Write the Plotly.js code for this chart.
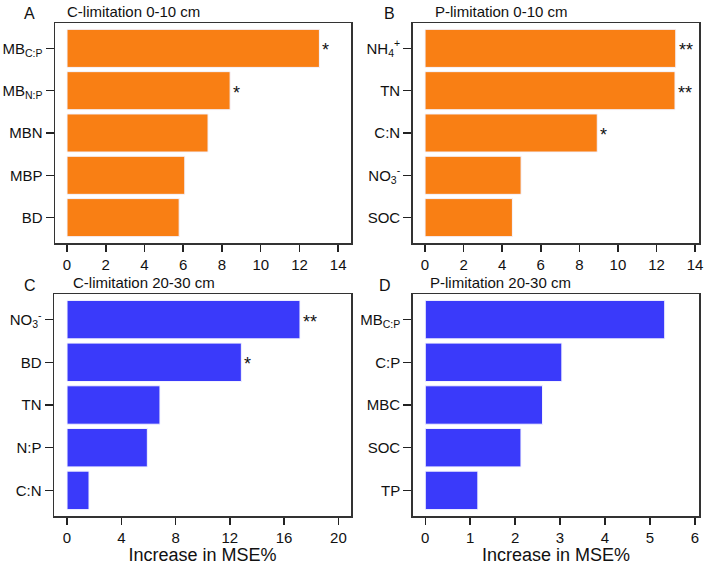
<!DOCTYPE html>
<html><head><meta charset="utf-8">
<script src="https://cdn.plot.ly/plotly-3.0.1.min.js"></script>
<style>html,body{margin:0;padding:0;background:#fff}</style>
</head><body>
<div id="chart" style="width:714px;height:568px"></div>
<script>
// Panel A: C-limitation 0-10 cm
const catsA = ["MB<sub>C:P</sub>", "MB<sub>N:P</sub>", "MBN", "MBP", "BD"];
const valsA = [13.03, 8.42, 7.28, 6.08, 5.79];
const sigA  = ["*", "*", "", "", ""];
// Panel B: P-limitation 0-10 cm
const catsB = ["NH<sub>4</sub><sup>+</sup>", "TN", "C:N", "NO<sub>3</sub><sup>-</sup>", "SOC"];
const valsB = [13.0, 12.96, 8.93, 4.98, 4.53];
const sigB  = ["**", "**", "*", "", ""];
// Panel C: C-limitation 20-30 cm
const catsC = ["NO<sub>3</sub><sup>-</sup>", "BD", "TN", "N:P", "C:N"];
const valsC = [17.17, 12.85, 6.85, 5.92, 1.62];
const sigC  = ["**", "*", "", "", ""];
// Panel D: P-limitation 20-30 cm
const catsD = ["MB<sub>C:P</sub>", "C:P", "MBC", "SOC", "TP"];
const valsD = [5.33, 3.04, 2.61, 2.13, 1.17];
const sigD  = ["", "", "", "", ""];

const titles = ["C-limitation 0-10 cm", "P-limitation 0-10 cm", "C-limitation 20-30 cm", "P-limitation 20-30 cm"];
const letters = ["A", "B", "C", "D"];
const xTitle = "Increase in MSE%";

const ORANGE = "#F97F14", BLUE = "#3A3AFA";
const FONT = "Liberation Sans, Arial, sans-serif";
const W = 714, H = 568;

const panels = [
  {cats: catsA, vals: valsA, sig: sigA, color: ORANGE, px: [55, 351], py: [23, 243], xr: [-0.62, 14.66], dt: 2, xt: false},
  {cats: catsB, vals: valsB, sig: sigB, color: ORANGE, px: [412.7, 699.3], py: [23, 243], xr: [-0.64, 14.22], dt: 2, xt: false},
  {cats: catsC, vals: valsC, sig: sigC, color: BLUE, px: [54, 351], py: [294, 516], xr: [-0.96, 20.93], dt: 4, xt: true},
  {cats: catsD, vals: valsD, sig: sigD, color: BLUE, px: [412.7, 699.3], py: [294, 516], xr: [-0.28, 6.1], dt: 1, xt: true}
];

const data = [];
const layout = {
  width: W, height: H,
  margin: {l: 0, r: 0, t: 0, b: 0},
  paper_bgcolor: "#fff", plot_bgcolor: "#fff",
  showlegend: false,
  bargap: 0.1,
  font: {family: FONT, size: 15, color: "#111"},
  annotations: []
};

panels.forEach((p, i) => {
  const n = i + 1;
  const xa = n === 1 ? "x" : "x" + n, ya = n === 1 ? "y" : "y" + n;
  const xk = n === 1 ? "xaxis" : "xaxis" + n, yk = n === 1 ? "yaxis" : "yaxis" + n;
  data.push({
    type: "bar", orientation: "h",
    x: p.vals, y: p.cats,
    xaxis: xa, yaxis: ya,
    marker: {color: p.color, line: {color: "#f4f4ff", width: 1}},
    hoverinfo: "x+y"
  });
  layout[xk] = {
    domain: [p.px[0] / W, p.px[1] / W],
    anchor: ya,
    range: p.xr,
    tickmode: "linear", tick0: 0, dtick: p.dt,
    ticks: "outside", ticklen: 7, tickwidth: 1.5, tickcolor: "#222",
    showgrid: false, zeroline: false,
    showline: true, mirror: true, linecolor: "#333", linewidth: 1.5,
    tickfont: {size: 15, family: FONT, color: "#111"},
    title: p.xt ? {text: xTitle, font: {size: 18, family: FONT, color: "#111"}, standoff: 4} : {text: ""}
  };
  layout[yk] = {
    domain: [1 - p.py[1] / H, 1 - p.py[0] / H],
    anchor: xa,
    type: "category",
    categoryorder: "array", categoryarray: p.cats,
    range: [4.6, -0.6],
    ticks: "outside", ticklen: 8, tickwidth: 1.5, tickcolor: "#222",
    showgrid: false, zeroline: false,
    showline: true, mirror: true, linecolor: "#333", linewidth: 1.5,
    tickfont: {size: 15, family: FONT, color: "#111"}
  };
  // significance asterisks
  p.sig.forEach((s, j) => {
    if (!s) return;
    layout.annotations.push({
      xref: xa, yref: ya, x: p.vals[j], y: p.cats[j],
      text: s, showarrow: false, xanchor: "left", yanchor: "middle",
      xshift: 1, yshift: -2,
      font: {size: 18, family: FONT, color: "#111"}
    });
  });
  // panel letter and title
  const titleX = [65, 433, 71, 428][i];
  const letterX = [22, 382, 22, 377][i];
  const topY = p.py[0];
  layout.annotations.push({
    xref: "paper", yref: "paper",
    x: letterX / W, y: 1 - (topY - 9) / H,
    text: letters[i], showarrow: false, xanchor: "left", yanchor: "middle",
    font: {size: 16, family: FONT, color: "#111"}
  });
  layout.annotations.push({
    xref: "paper", yref: "paper",
    x: titleX / W, y: 1 - (topY - 11) / H,
    text: titles[i], showarrow: false, xanchor: "left", yanchor: "middle",
    font: {size: 15, family: FONT, color: "#111"}
  });
});

Plotly.newPlot("chart", data, layout, {displayModeBar: false, staticPlot: true});
</script>
</body></html>
